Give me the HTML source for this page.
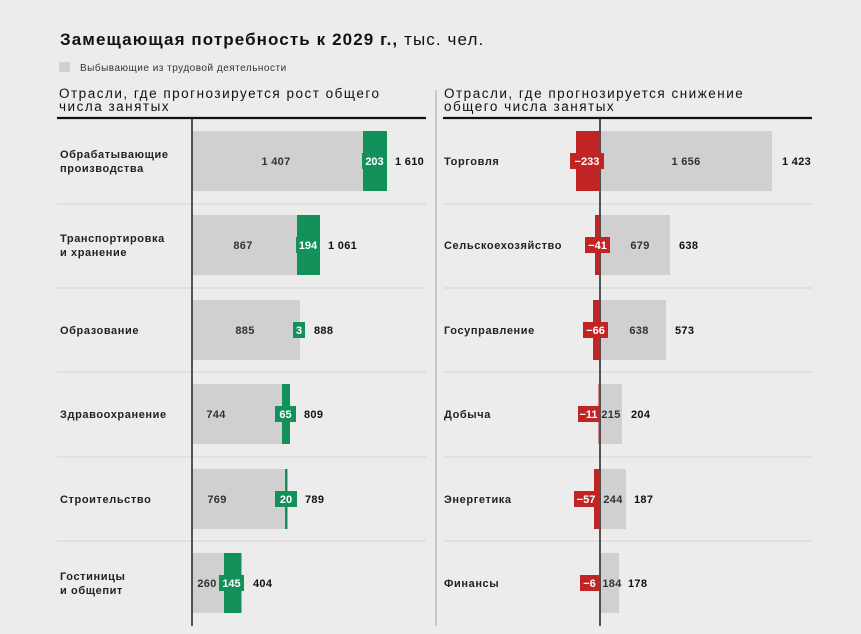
<!DOCTYPE html>
<html><head><meta charset="utf-8"><style>
html,body{margin:0;padding:0;background:#ececec;}
svg{display:block;font-family:"Liberation Sans","DejaVu Sans",sans-serif;}
.lbl{font-size:11px;fill:#222;font-weight:bold;letter-spacing:0.6px;}
.v{font-size:11px;fill:#333;font-weight:bold;text-anchor:middle;letter-spacing:0.3px;}
.t{font-size:11px;fill:#111;font-weight:bold;letter-spacing:0.3px;}
.w{font-size:11px;fill:#fff;font-weight:bold;text-anchor:middle;}
.h{font-size:13.5px;fill:#111;letter-spacing:1.5px;}
</style></head><body>
<svg width="861" height="634" viewBox="0 0 861 634">
<rect width="861" height="634" fill="#ececec"/>
<text x="60" y="45" font-size="17" font-weight="bold" fill="#111" letter-spacing="1.1">Замещающая потребность к 2029 г., <tspan font-weight="normal">тыс. чел.</tspan></text>
<rect x="59" y="62" width="11" height="10" fill="#d0d0d0"/>
<text x="80" y="71" font-size="10" fill="#333" letter-spacing="0.5">Выбывающие из трудовой деятельности</text>
<text class="h" x="59" y="98">Отрасли, где прогнозируется рост общего</text>
<text class="h" x="59" y="111">числа занятых</text>
<text class="h" x="444" y="98">Отрасли, где прогнозируется снижение</text>
<text class="h" x="444" y="111">общего числа занятых</text>
<line x1="57" y1="118" x2="426" y2="118" stroke="#111" stroke-width="2.2"/>
<line x1="443" y1="118" x2="812" y2="118" stroke="#111" stroke-width="2.2"/>
<line x1="436" y1="90" x2="436" y2="626" stroke="#bbb" stroke-width="1.5"/>
<g stroke="#d4d4d4" stroke-width="1">
<line x1="57" y1="204" x2="426" y2="204"/><line x1="57" y1="288" x2="426" y2="288"/><line x1="57" y1="372" x2="426" y2="372"/><line x1="57" y1="457" x2="426" y2="457"/><line x1="57" y1="541" x2="426" y2="541"/>
<line x1="444" y1="204" x2="812" y2="204"/><line x1="444" y1="288" x2="812" y2="288"/><line x1="444" y1="372" x2="812" y2="372"/><line x1="444" y1="457" x2="812" y2="457"/><line x1="444" y1="541" x2="812" y2="541"/>
</g>
<g fill="#d0d0d0">
<rect x="192" y="131" width="171" height="60"/>
<rect x="192" y="215" width="105" height="60"/>
<rect x="192" y="300" width="108" height="60"/>
<rect x="192" y="384" width="90" height="60"/>
<rect x="192" y="469" width="93" height="60"/>
<rect x="192" y="553" width="32" height="60"/>
</g>
<g fill="#12925a">
<rect x="363" y="131" width="24" height="60"/>
<rect x="297" y="215" width="23" height="60"/>
<rect x="282" y="384" width="8" height="60"/>
<rect x="285" y="469" width="2.5" height="60"/>
<rect x="224" y="553" width="17.5" height="60"/>
<rect x="362" y="153" width="25" height="16"/>
<rect x="296" y="237" width="24" height="16"/>
<rect x="293" y="322" width="12" height="16"/>
<rect x="275" y="406" width="21" height="16"/>
<rect x="275" y="491" width="22" height="16"/>
<rect x="219" y="575" width="25" height="16"/>
</g>
<text class="w" x="374.5" y="165">203</text>
<text class="w" x="308" y="249">194</text>
<text class="w" x="299" y="334">3</text>
<text class="w" x="285.5" y="418">65</text>
<text class="w" x="286" y="503">20</text>
<text class="w" x="231.5" y="587">145</text>
<text class="v" x="276" y="165">1 407</text>
<text class="v" x="243" y="249">867</text>
<text class="v" x="245" y="334">885</text>
<text class="v" x="216" y="418">744</text>
<text class="v" x="217" y="503">769</text>
<text class="v" x="207" y="587">260</text>
<text class="t" x="395" y="165">1 610</text>
<text class="t" x="328" y="249">1 061</text>
<text class="t" x="314" y="334">888</text>
<text class="t" x="304" y="418">809</text>
<text class="t" x="305" y="503">789</text>
<text class="t" x="253" y="587">404</text>
<text class="lbl" x="60" y="158">Обрабатывающие</text><text class="lbl" x="60" y="172">производства</text>
<text class="lbl" x="60" y="242">Транспортировка</text><text class="lbl" x="60" y="256">и хранение</text>
<text class="lbl" x="60" y="334">Образование</text>
<text class="lbl" x="60" y="418">Здравоохранение</text>
<text class="lbl" x="60" y="503">Строительство</text>
<text class="lbl" x="60" y="580">Гостиницы</text><text class="lbl" x="60" y="594">и общепит</text>
<g fill="#d0d0d0">
<rect x="600" y="131" width="172" height="60"/>
<rect x="600" y="215" width="70" height="60"/>
<rect x="600" y="300" width="66" height="60"/>
<rect x="600" y="384" width="22" height="60"/>
<rect x="600" y="469" width="26" height="60"/>
<rect x="600" y="553" width="19" height="60"/>
</g>
<line x1="192" y1="118" x2="192" y2="626" stroke="#222" stroke-width="1.5"/>
<line x1="600" y1="118" x2="600" y2="626" stroke="#222" stroke-width="1.5"/>
<g fill="#c02424">
<rect x="576" y="131" width="24" height="60"/>
<rect x="595" y="215" width="5" height="60"/>
<rect x="593" y="300" width="7" height="60"/>
<rect x="598.5" y="384" width="1.5" height="60"/>
<rect x="594" y="469" width="6" height="60"/>
<rect x="599" y="553" width="1" height="60"/>
<rect x="570" y="153" width="34" height="16"/>
<rect x="585" y="237" width="25" height="16"/>
<rect x="583" y="322" width="25" height="16"/>
<rect x="578" y="406" width="21" height="16"/>
<rect x="574" y="491" width="24" height="16"/>
<rect x="580" y="575" width="19" height="16"/>
</g>
<text class="w" x="587" y="165">−233</text>
<text class="w" x="597.5" y="249">−41</text>
<text class="w" x="595.5" y="334">−66</text>
<text class="w" x="588.5" y="418">−11</text>
<text class="w" x="586" y="503">−57</text>
<text class="w" x="589.5" y="587">−6</text>
<text class="v" x="686" y="165">1 656</text>
<text class="v" x="640" y="249">679</text>
<text class="v" x="639" y="334">638</text>
<text class="v" x="611" y="418">215</text>
<text class="v" x="613" y="503">244</text>
<text class="v" x="612" y="587">184</text>
<text class="t" x="782" y="165">1 423</text>
<text class="t" x="679" y="249">638</text>
<text class="t" x="675" y="334">573</text>
<text class="t" x="631" y="418">204</text>
<text class="t" x="634" y="503">187</text>
<text class="t" x="628" y="587">178</text>
<text class="lbl" x="444" y="165">Торговля</text>
<text class="lbl" x="444" y="249">Сельскоехозяйство</text>
<text class="lbl" x="444" y="334">Госуправление</text>
<text class="lbl" x="444" y="418">Добыча</text>
<text class="lbl" x="444" y="503">Энергетика</text>
<text class="lbl" x="444" y="587">Финансы</text>
</svg>
</body></html>
